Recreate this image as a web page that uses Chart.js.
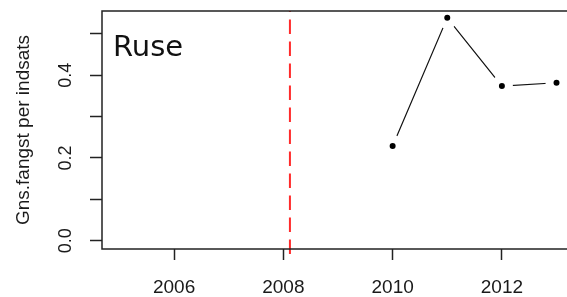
<!DOCTYPE html>
<html>
<head>
<meta charset="utf-8">
<script src="https://cdn.jsdelivr.net/npm/chart.js@4.4.0/dist/chart.umd.min.js"></script>
<style>
  html, body { margin: 0; padding: 0; background: #fff; overflow: hidden; width: 567px; height: 297px; }
  #wrap { width: 574px; height: 297px; }
  canvas { display: block; }
</style>
</head>
<body>
<div id="wrap"><canvas id="c" width="574" height="297"></canvas></div>
<script>
// --- data ---
const years = [2010, 2011, 2012, 2013];
const catchPerEffort = [0.229, 0.539, 0.374, 0.382];
const xTicks = [2006, 2008, 2010, 2012];
const yTicks = [0, 0.1, 0.2, 0.3, 0.4, 0.5];
const yTickLabels = ['0.0', '', '0.2', '', '0.4', ''];
const refYear = 2008.12;          // red dashed marker
const panelLabel = 'Ruse';
const yTitle = 'Gns.fangst per indsats';

// axis limits (R style 4% padding)
const xMin = 2004.68, xMax = 2013.32;
const yMin = -0.0201, yMax = 0.5555;

const ink = '#1a1a1a';
const axisFont = '"Liberation Sans", Arial, sans-serif';

// box around the plot region + the panel label
const boxPlugin = {
  id: 'box',
  afterDatasetsDraw(chart) {
    const a = chart.chartArea, ctx = chart.ctx;
    ctx.save();
    ctx.strokeStyle = '#222';
    ctx.lineWidth = 1.5;
    ctx.strokeRect(a.left, a.top, a.right - a.left, a.bottom - a.top);
    ctx.fillStyle = '#111';
    ctx.font = '29px "DejaVu Sans", sans-serif';
    ctx.textBaseline = 'alphabetic';
    ctx.fillText(panelLabel, a.left + 11, a.top + 45);
    ctx.restore();
  }
};

function noPad(s) {
  s.paddingLeft = s.paddingRight = s.paddingTop = s.paddingBottom = 0;
}

const ctx = document.getElementById('c').getContext('2d');
new Chart(ctx, {
  type: 'line',
  data: {
    datasets: [
      {
        // type "b": points with gaps in the connecting line
        data: years.map((y, i) => ({x: y, y: catchPerEffort[i]})),
        borderColor: '#111',
        borderWidth: 1.2,
        pointRadius: 7,
        pointBorderWidth: 8,
        pointBackgroundColor: '#000',
        pointBorderColor: '#fff',
        tension: 0
      },
      {
        data: [{x: refYear, y: yMin - 0.012}, {x: refYear, y: yMax}],
        borderColor: '#ff2a2a',
        borderWidth: 2,
        borderDash: [14.5, 7.5],
        pointRadius: 0,
        clip: false
      }
    ]
  },
  options: {
    responsive: false,
    animation: false,
    events: [],
    layout: { autoPadding: false, padding: { top: 11, left: 0, right: 0, bottom: 0 } },
    plugins: { legend: { display: false }, tooltip: { enabled: false } },
    scales: {
      x: {
        type: 'linear',
        min: xMin, max: xMax,
        afterBuildTicks: s => { s.ticks = xTicks.map(v => ({value: v})); },
        afterFit: s => { s.height = 48; noPad(s); },
        ticks: {
          autoSkip: false, maxRotation: 0, padding: 16,
          color: ink, font: { family: axisFont, size: 19 },
          callback: v => String(v)
        },
        grid: { drawOnChartArea: false, drawTicks: true, tickLength: 11, tickColor: '#222', tickWidth: 1.5 },
        border: { display: false }
      },
      y: {
        type: 'linear',
        min: yMin, max: yMax,
        afterBuildTicks: s => { s.ticks = yTicks.map(v => ({value: v})); },
        afterFit: s => { s.width = 102; noPad(s); },
        ticks: {
          autoSkip: false, minRotation: 90, maxRotation: 90, crossAlign: 'center', padding: 11.5,
          color: ink, font: { family: axisFont, size: 18 },
          callback: (v, i) => yTickLabels[i]
        },
        grid: { drawOnChartArea: false, drawTicks: true, tickLength: 12, tickColor: '#222', tickWidth: 1.5 },
        border: { display: false },
        title: {
          display: true, text: yTitle, color: ink,
          font: { family: axisFont, size: 19 },
          padding: { top: 12.6, bottom: 0 }
        }
      }
    }
  },
  plugins: [boxPlugin]
});
</script>
</body>
</html>
